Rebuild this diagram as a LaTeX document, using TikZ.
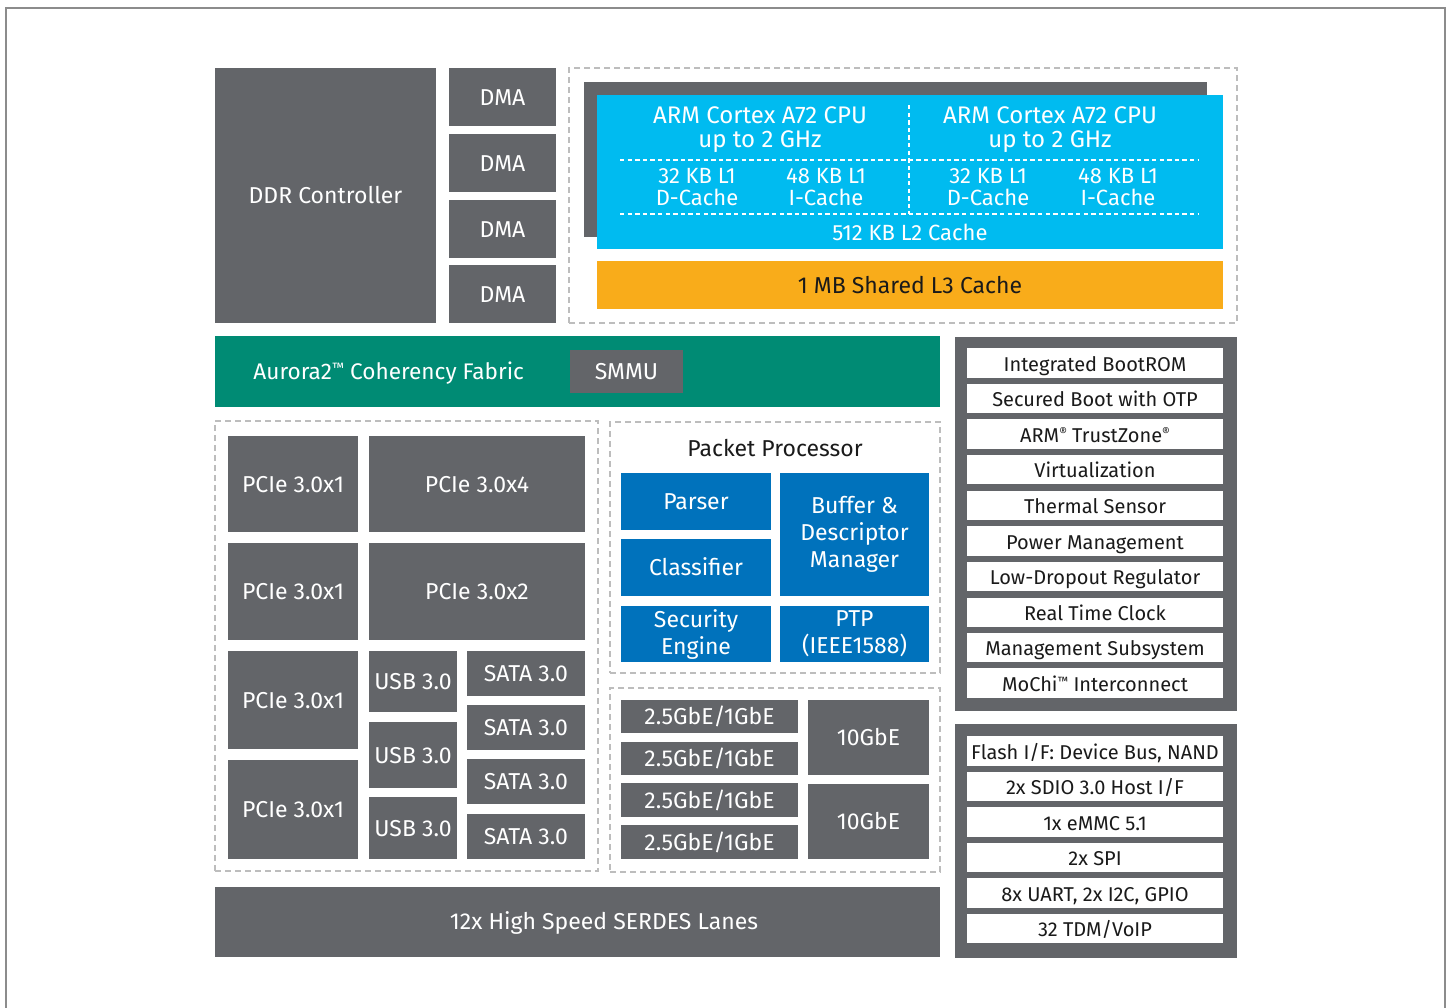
\documentclass[tikz,border=0pt]{standalone}
\usepackage{fontspec}
\setmainfont{Fira Sans}
\definecolor{dgray}{HTML}{636569}
\definecolor{cpucyan}{HTML}{00BBF0}
\definecolor{lthree}{HTML}{F9AC1A}
\definecolor{fabric}{HTML}{008B74}
\definecolor{ppblue}{HTML}{0072BC}
\definecolor{dashgray}{HTML}{BDBDBD}
\definecolor{framegray}{HTML}{8C8C8C}
\definecolor{txtblack}{HTML}{1A1A1A}
\newcommand\supmark[1]{\raisebox{0.3em}{\scalebox{0.6}{#1}}}
% #1 style, #2 name, #3 x1, #4 y1, #5 x2, #6 y2, #7 text
\newcommand\blocknode[7]{%
  \pgfmathsetmacro\bkw{(#5-#3)*0.5}%
  \pgfmathsetmacro\bkh{(#6-#4)*0.5}%
  \pgfmathsetmacro\bkx{(#3+#5)/2}%
  \pgfmathsetmacro\bky{(#4+#6)/2}%
  \node[#1, minimum width=\bkw pt, minimum height=\bkh pt] (#2) at (\bkx,\bky) {#7};%
}
\tikzset{
  blk/.style={inner sep=0pt, outer sep=0pt, draw=none, align=center, anchor=center, font=\fontsize{11.5}{13.5}\selectfont},
  oneline/.style={text height=0.86em, text depth=0.06em},
  gbox/.style={blk, oneline, fill=dgray, text=white},
  bbox/.style={blk, fill=ppblue, text=white},
  wbox/.style={blk, oneline, fill=white, text=txtblack, font=\fontsize{10}{12}\selectfont},
  panel/.style={blk, fill=dgray},
  dbox/.style={blk, fill=none, draw=dashgray, line width=0.6pt, dash pattern=on 3pt off 2pt},
  cputxt/.style={inner sep=0pt, text=white, align=center, font=\fontsize{12}{12}\selectfont},
  cachetxt/.style={inner sep=0pt, text=white, align=center, font=\fontsize{11}{11.2}\selectfont},
  wdash/.style={draw=white, line width=0.6pt, dash pattern=on 2.2pt off 1.6pt}
}
\begin{document}
\begin{tikzpicture}[x=0.5pt, y=-0.5pt]
\useasboundingbox (0,0) rectangle (1449,1007);
% outer frame
\draw[framegray, line width=0.8pt] (6,1010) -- (6,8) -- (1445,8) -- (1445,1010);

% DDR and DMA
\blocknode{gbox}{ddr}{215}{68}{436}{323}{DDR Controller}
\blocknode{gbox}{dma1}{449}{68}{556}{126}{DMA}
\blocknode{gbox}{dma2}{449}{134}{556}{192}{DMA}
\blocknode{gbox}{dma3}{449}{200}{556}{258}{DMA}
\blocknode{gbox}{dma4}{449}{265}{556}{323}{DMA}

% CPU cluster
\blocknode{dbox}{cpuarea}{569}{68}{1237}{323}{}
\blocknode{panel}{cpuback}{584}{82}{1207}{237}{}
\blocknode{blk, fill=cpucyan}{cpu}{597}{95}{1223}{249}{}
\blocknode{blk, oneline, fill=lthree, text=txtblack}{lthreec}{597}{261}{1223}{309}{1 MB Shared L3 Cache}
\coordinate (vtop) at (909,105);
\coordinate (vbot) at (909,214);
\coordinate (h1l) at (620,160);
\coordinate (h1r) at (1198,160);
\coordinate (h2l) at (620,214);
\coordinate (h2r) at (1198,214);
\draw[wdash] (vtop) -- (vbot);
\draw[wdash] (h1l) -- (h1r);
\draw[wdash] (h2l) -- (h2r);
\node[cputxt] (cpuA) at (760,130) {ARM Cortex A72 CPU\\up to 2 GHz};
\node[cputxt] (cpuB) at (1050,130) {ARM Cortex A72 CPU\\up to 2 GHz};
\node[cachetxt] (dA) at (697,187) {32 KB L1\\D-Cache};
\node[cachetxt] (iA) at (826,187) {48 KB L1\\I-Cache};
\node[cachetxt] (dB) at (988,187) {32 KB L1\\D-Cache};
\node[cachetxt] (iB) at (1118,187) {48 KB L1\\I-Cache};
\node[cachetxt, oneline] (ltwo) at (910,232) {512 KB L2 Cache};

% Fabric
\blocknode{blk, fill=fabric}{fab}{215}{336}{940}{407}{}
\node[inner sep=0pt, oneline, text=white, anchor=west, font=\fontsize{11.3}{13}\selectfont] (fabtxt) at (253,371) {Aurora2\supmark{™} Coherency Fabric};
\blocknode{gbox}{smmu}{570}{350}{683}{393}{SMMU}

% High speed IO
\blocknode{dbox}{ioarea}{215}{421}{598}{871}{}
\blocknode{gbox}{pc1}{228}{436}{358}{532}{PCIe 3.0x1}
\blocknode{gbox}{pc4}{369}{436}{585}{532}{PCIe 3.0x4}
\blocknode{gbox}{pc2}{228}{543}{358}{640}{PCIe 3.0x1}
\blocknode{gbox}{pcx2}{369}{543}{585}{640}{PCIe 3.0x2}
\blocknode{gbox}{pc3}{228}{651}{358}{749}{PCIe 3.0x1}
\blocknode{gbox}{pc5}{228}{760}{358}{859}{PCIe 3.0x1}
\blocknode{gbox}{usb1}{369}{651}{457}{712}{USB 3.0}
\blocknode{gbox}{usb2}{369}{722}{457}{788}{USB 3.0}
\blocknode{gbox}{usb3}{369}{797}{457}{859}{USB 3.0}
\blocknode{gbox}{sata1}{467}{651}{585}{696}{SATA 3.0}
\blocknode{gbox}{sata2}{467}{705}{585}{750}{SATA 3.0}
\blocknode{gbox}{sata3}{467}{759}{585}{804}{SATA 3.0}
\blocknode{gbox}{sata4}{467}{814}{585}{859}{SATA 3.0}

% Packet processor
\blocknode{dbox}{pparea}{610}{422}{940}{673}{}
\node[inner sep=0pt, oneline, text=txtblack, font=\fontsize{11.5}{13}\selectfont] (pptitle) at (775,448) {Packet Processor};
\blocknode{bbox, oneline}{parser}{621}{473}{771}{530}{Parser}
\blocknode{bbox, oneline}{classifier}{621}{539}{771}{596}{Classifier}
\blocknode{bbox}{sec}{621}{606}{771}{662}{Security\\Engine}
\blocknode{bbox}{buf}{780}{473}{929}{596}{Buffer \&\\Descriptor\\Manager}
\blocknode{bbox}{ptp}{780}{606}{929}{662}{PTP\\(IEEE1588)}

% Ethernet
\blocknode{dbox}{etharea}{610}{688}{940}{872}{}
\blocknode{gbox}{ge1}{621}{700}{798}{733}{2.5GbE/1GbE}
\blocknode{gbox}{ge2}{621}{742}{798}{775}{2.5GbE/1GbE}
\blocknode{gbox}{ge3}{621}{783}{798}{817}{2.5GbE/1GbE}
\blocknode{gbox}{ge4}{621}{825}{798}{859}{2.5GbE/1GbE}
\blocknode{gbox}{tge1}{808}{700}{929}{775}{10GbE}
\blocknode{gbox}{tge2}{808}{784}{929}{859}{10GbE}

% SERDES
\blocknode{gbox}{serdes}{215}{887}{940}{957}{}
\node[inner sep=0pt, oneline, text=white, font=\fontsize{11.5}{13}\selectfont] (serdestxt) at (604,921) {12x High Speed SERDES Lanes};

% Right panel: system
\blocknode{panel}{syspanel}{955}{337}{1237}{711}{}
\blocknode{wbox}{s1}{967}{348}{1223}{378}{Integrated BootROM}
\blocknode{wbox}{s2}{967}{384}{1223}{413}{Secured Boot with OTP}
\blocknode{wbox}{s3}{967}{419}{1223}{449}{ARM\supmark{®} TrustZone\supmark{®}}
\blocknode{wbox}{s4}{967}{455}{1223}{484}{Virtualization}
\blocknode{wbox}{s5}{967}{491}{1223}{520}{Thermal Sensor}
\blocknode{wbox}{s6}{967}{526}{1223}{556}{Power Management}
\blocknode{wbox}{s7}{967}{562}{1223}{591}{Low-Dropout Regulator}
\blocknode{wbox}{s8}{967}{598}{1223}{627}{Real Time Clock}
\blocknode{wbox}{s9}{967}{633}{1223}{662}{Management Subsystem}
\blocknode{wbox}{s10}{967}{668}{1223}{698}{MoChi\supmark{™} Interconnect}

% Right panel: peripherals
\blocknode{panel}{perpanel}{955}{724}{1237}{958}{}
\blocknode{wbox}{p1}{967}{736}{1223}{766}{Flash I/F: Device Bus, NAND}
\blocknode{wbox}{p2}{967}{772}{1223}{801}{2x SDIO 3.0 Host I/F}
\blocknode{wbox}{p3}{967}{807}{1223}{837}{1x eMMC 5.1}
\blocknode{wbox}{p4}{967}{843}{1223}{872}{2x SPI}
\blocknode{wbox}{p5}{967}{878}{1223}{908}{8x UART, 2x I2C, GPIO}
\blocknode{wbox}{p6}{967}{914}{1223}{943}{32 TDM/VoIP}
\end{tikzpicture}
\end{document}
